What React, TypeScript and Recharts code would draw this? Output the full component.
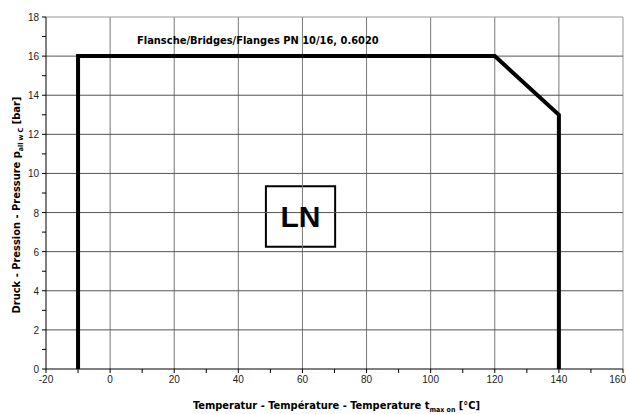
import React from 'react';
import { LineChart, Line, XAxis, YAxis, ReferenceLine, ReferenceArea, Label } from 'recharts';

// pressure / temperature curve
const temps = [-10, -10, 120, 140, 140];
const pressures = [0, 16, 16, 13, 0];

const xTicks = [-20, -10, 0, 10, 20, 30, 40, 50, 60, 70, 80, 90, 100, 110, 120, 130, 140, 150, 160];
const xGrid = [0, 20, 40, 60, 80, 100, 120, 140, 160];
const yTicks = [0, 1, 2, 3, 4, 5, 6, 7, 8, 9, 10, 11, 12, 13, 14, 15, 16, 17, 18];
const yGrid = [2, 4, 6, 8, 10, 12, 14, 16, 18];

const curveTitle = 'Flansche/Bridges/Flanges PN 10/16, 0.6020';
const boxLabel = 'LN';

const data = temps.map((t, i) => ({ t, p: pressures[i] }));

const FONT = '"Liberation Sans", Arial, sans-serif';
const BOLD = '"DejaVu Sans Condensed", "Liberation Sans Narrow", "Liberation Sans", sans-serif';

const XTick = (props: any) => {
  const { x, y, payload } = props;
  if (payload.value % 20 !== 0) return <g />;
  const last = payload.value === 160;
  return (
    <text
      x={last ? x + 3 : x}
      y={y + 8}
      textAnchor={last ? 'end' : 'middle'}
      fontSize={10}
      fontFamily={FONT}
      fill="#222"
    >
      {payload.value}
    </text>
  );
};

const YTick = (props: any) => {
  const { x, y, payload } = props;
  if (payload.value % 2 !== 0) return <g />;
  return (
    <text x={x - 1} y={y + 4} textAnchor="end" fontSize={10} fontFamily={FONT} fill="#222">
      {payload.value}
    </text>
  );
};

const YTitle = (props: any) => {
  const vb = props.viewBox || { x: 0, y: 0, height: 0 };
  const cx = 20;
  const cy = vb.y + vb.height / 2 + 12;
  return (
    <text
      transform={`translate(${cx},${cy}) rotate(-90)`}
      textAnchor="middle"
      fontSize={11}
      fontWeight="bold"
      fontFamily={BOLD}
      fill="#000"
    >
      Druck - Pression - Pressure p
      <tspan fontSize={7} dy={3}>all w C</tspan>
      <tspan dy={-3}> [bar]</tspan>
    </text>
  );
};

const XTitle = (props: any) => {
  const vb = props.viewBox || { x: 0, y: 0, width: 0, height: 0 };
  return (
    <text
      x={vb.x + vb.width / 2 + 2}
      y={vb.y + 40}
      textAnchor="middle"
      fontSize={11}
      fontWeight="bold"
      fontFamily={BOLD}
      fill="#000"
    >
      Temperatur - Température - Temperature t
      <tspan fontSize={7} dy={3}>max on</tspan>
      <tspan dy={-3}> [°C]</tspan>
    </text>
  );
};

const App: React.FC = () => {
  return (
    <div style={{ position: 'absolute', left: 0, top: 0, width: 626, height: 414, background: '#fff' }}>
      <LineChart width={626} height={414} data={data} margin={{ top: 17, right: 3, left: 0, bottom: 0 }}>
        <XAxis
          type="number"
          dataKey="t"
          domain={[-20, 160]}
          ticks={xTicks}
          interval={0}
          height={45}
          axisLine={{ stroke: '#000' }}
          tickLine={{ stroke: '#000' }}
          tickSize={4}
          tick={<XTick />}
        >
          <Label content={<XTitle />} />
        </XAxis>
        <YAxis
          type="number"
          domain={[0, 18]}
          ticks={yTicks}
          interval={0}
          width={46}
          axisLine={{ stroke: '#000' }}
          tickLine={{ stroke: '#000' }}
          tickSize={4}
          tick={<YTick />}
        >
          <Label content={<YTitle />} />
        </YAxis>
        {xGrid.map((v) => (
          <ReferenceLine key={'gx' + v} x={v} stroke={v === 160 ? '#999' : '#777'} strokeWidth={1} />
        ))}
        {yGrid.map((v) => (
          <ReferenceLine key={'gy' + v} y={v} stroke={v === 18 ? '#999' : '#555'} strokeWidth={1} />
        ))}
        <ReferenceArea
          x1={48.6}
          x2={70.2}
          y1={6.25}
          y2={9.35}
          fill="#fff"
          fillOpacity={1}
          stroke="#000"
          strokeWidth={2}
          ifOverflow="visible"
          label={{ value: boxLabel, position: 'center', fontSize: 30, fontWeight: 'bold', fontFamily: FONT, fill: '#000' }}
        />
        <Line
          type="linear"
          dataKey="p"
          stroke="#000"
          strokeWidth={4}
          dot={false}
          isAnimationActive={false}
          strokeLinejoin="miter"
        />
      </LineChart>
      <div
        style={{
          position: 'absolute',
          left: 137,
          top: 34,
          fontFamily: BOLD,
          fontWeight: 'bold',
          fontSize: 11,
          whiteSpace: 'nowrap',
          color: '#000',
        }}
      >
        {curveTitle}
      </div>
    </div>
  );
};

export default App;
